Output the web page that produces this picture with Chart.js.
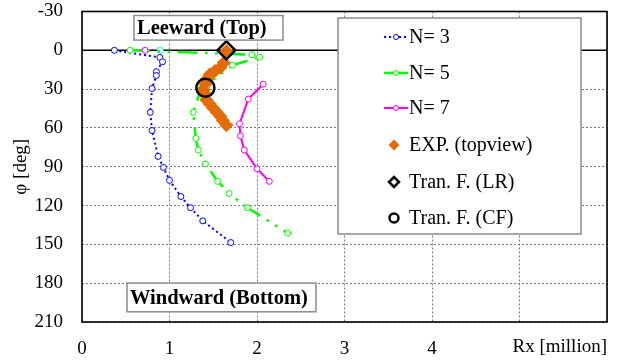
<!DOCTYPE html>
<html><head><meta charset="utf-8">
<script src="https://cdn.jsdelivr.net/npm/chart.js@4.4.1/dist/chart.umd.min.js"></script>
<style>html,body{margin:0;padding:0;background:#fff;}</style>
</head><body>
<canvas id="c" width="626" height="360"></canvas>
<script>
// ---- data ----
const xTickValues = [0, 1, 2, 3, 4, 5, 6];
const xTickLabels = ['0', '1', '2', '3', '4', '', ''];
const yTickValues = [-30, 0, 30, 60, 90, 120, 150, 180, 210];

const n3X = [0.37, 0.89, 0.92, 0.85, 0.85, 0.80, 0.78, 0.80, 0.87, 0.93, 1.00, 1.13, 1.24, 1.38, 1.70];
const n3Y = [0, 5.5, 8.9, 16.5, 19.5, 29.5, 48, 62, 82, 90.5, 100.5, 113, 121.7, 131.8, 148.6];

const n5X = [0.55, 1.94, 2.03, 1.72, 1.36, 1.27, 1.30, 1.33, 1.41, 1.55, 1.68, 1.89, 2.35];
const n5Y = [0, 3.4, 5.3, 11.5, 30, 47.9, 68.2, 77.1, 87.8, 101.3, 110.7, 121.7, 141.2];

const n7X = [0.72, null, 2.07, 1.90, 1.80, 1.81, 1.855, 2.00, 2.14];
const n7Y = [0, null, 26.2, 37.7, 56.8, 66.2, 77.1, 91.6, 101.3];

const extraX = [0.895];
const extraY = [0];

const expX = [1.65, 1.62, 1.58, 1.52, 1.46, 1.43, 1.41, 1.39, 1.41, 1.42, 1.46, 1.50, 1.54, 1.58, 1.61, 1.65];
const expY = [0.8, 9.7, 13.5, 16, 18.6, 21.9, 26.3, 30.5, 33.9, 38.2, 41.5, 44.8, 47.9, 50.9, 54.2, 58];

const lrX = [1.65];
const lrY = [0];
const cfX = [1.41];
const cfY = [29];

const seriesNames = ['N= 3', 'N= 5', 'N= 7', 'EXP. (topview)', 'Tran. F. (LR)', 'Tran. F. (CF)'];
const xTitle = 'Rx [million]';
const yTitle = 'φ [deg]';
const notes = [
  { text: 'Leeward (Top)', x0: 0.594, x1: 2.297, y0: -26.9, y1: -7.9 },
  { text: 'Windward (Bottom)', x0: 0.514, x1: 2.674, y0: 179.9, y1: 202.1 }
];

// ---- build ----
const pts = (xs, ys) => xs.map((x, i) => ({ x: x, y: ys[i] }));
const SERIF = '"Liberation Serif", "Times New Roman", serif';

const datasets = [
  { label: seriesNames[0], data: pts(n3X, n3Y), showLine: true, borderColor: '#0000ff', borderWidth: 2,
    borderDash: [2, 3], pointStyle: 'circle', pointRadius: 3, pointBorderWidth: 1,
    pointBorderColor: '#0000ff', pointBackgroundColor: '#ffffff', order: 6, legendDash: [2, 3] },
  { label: seriesNames[1], data: pts(n5X, n5Y), showLine: true, borderColor: '#00ff00', borderWidth: 2.5,
    borderDash: [20, 7.5, 2.5, 7.5, 2.5, 7.5], pointStyle: 'circle', pointRadius: 3, pointBorderWidth: 1,
    pointBorderColor: '#00ff00', pointBackgroundColor: '#ffffff', order: 5, legendDash: [] },
  { label: seriesNames[2], data: pts(n7X, n7Y), showLine: true, spanGaps: false, borderColor: '#ff00ff', borderWidth: 2,
    pointStyle: 'circle', pointRadius: 3, pointBorderWidth: 1,
    pointBorderColor: '#ff00ff', pointBackgroundColor: '#ffffff', order: 4, legendDash: [] },
  { label: seriesNames[3], data: pts(expX, expY), showLine: false, pointStyle: 'rectRot', pointRadius: 7,
    pointBorderWidth: 0, pointBorderColor: '#e36c09', pointBackgroundColor: '#e36c09', order: 3, legendRadius: 5.5 },
  { label: seriesNames[4], data: pts(lrX, lrY), showLine: false, pointStyle: 'rectRot', pointRadius: 9,
    pointBorderWidth: 2.5, pointBorderColor: '#000000', pointBackgroundColor: 'rgba(0,0,0,0)', order: 1, legendRadius: 5 },
  { label: seriesNames[5], data: pts(cfX, cfY), showLine: false, pointStyle: 'circle', pointRadius: 9,
    pointBorderWidth: 2.5, pointBorderColor: '#000000', pointBackgroundColor: 'rgba(0,0,0,0)', order: 2, legendRadius: 4.5 },
  { label: '', data: pts(extraX, extraY), showLine: false, pointStyle: 'circle', pointRadius: 3, pointBorderWidth: 1,
    pointBorderColor: '#00ffff', pointBackgroundColor: '#ffffff', order: 7, noLegend: true }
];

const decor = {
  id: 'decor',
  beforeDatasetsDraw(chart) {
    const { ctx, chartArea: a, scales: { y } } = chart;
    const y0 = y.getPixelForValue(0);
    ctx.save();
    ctx.strokeStyle = '#000';
    ctx.lineWidth = 1.5;
    ctx.beginPath(); ctx.moveTo(a.left, y0); ctx.lineTo(a.right, y0); ctx.stroke();
    ctx.restore();
  },
  afterDraw(chart) {
    const { ctx, chartArea: a, scales: { x, y } } = chart;
    ctx.save();
    // frame
    ctx.strokeStyle = '#000'; ctx.lineWidth = 1.6;
    ctx.strokeRect(a.left, a.top, a.right - a.left, a.bottom - a.top);
    // axis title x
    ctx.fillStyle = '#000';
    ctx.font = '19px ' + SERIF;
    ctx.textAlign = 'right'; ctx.textBaseline = 'middle';
    ctx.fillText(xTitle, a.right, 347);
    // notes
    ctx.font = 'bold 20.5px ' + SERIF;
    notes.forEach(n => {
      const l = x.getPixelForValue(n.x0), r = x.getPixelForValue(n.x1);
      const t = y.getPixelForValue(n.y0), b = y.getPixelForValue(n.y1);
      ctx.fillStyle = '#fff'; ctx.fillRect(l, t, r - l, b - t);
      ctx.strokeStyle = '#8c8c8c'; ctx.lineWidth = 1.5; ctx.strokeRect(l, t, r - l, b - t);
      ctx.fillStyle = '#000'; ctx.textAlign = 'left'; ctx.textBaseline = 'middle';
      ctx.fillText(n.text, l + 3, (t + b) / 2 + 1);
    });
    // legend
    const L = 338, T = 18, R = 581, B = 234;
    ctx.fillStyle = '#fff'; ctx.fillRect(L, T, R - L, B - T);
    ctx.strokeStyle = '#8c8c8c'; ctx.lineWidth = 1.5; ctx.strokeRect(L, T, R - L, B - T);
    const rows = [37, 73, 108, 145, 182, 218];
    const items = chart.data.datasets.filter(d => !d.noLegend);
    items.forEach((d, i) => {
      const cy = rows[i];
      const cx = 396;
      if (d.showLine) {
        ctx.save();
        ctx.strokeStyle = d.borderColor; ctx.lineWidth = d.borderWidth;
        ctx.setLineDash(d.legendDash || []);
        ctx.beginPath(); ctx.moveTo(384, cy); ctx.lineTo(408, cy); ctx.stroke();
        ctx.restore();
        ctx.save();
        ctx.fillStyle = '#fff'; ctx.strokeStyle = d.pointBorderColor; ctx.lineWidth = 1;
        ctx.beginPath(); ctx.arc(cx, cy, 2.5, 0, Math.PI * 2); ctx.fill(); ctx.stroke();
        ctx.restore();
      } else {
        ctx.save();
        ctx.fillStyle = d.pointBackgroundColor; ctx.strokeStyle = d.pointBorderColor;
        ctx.lineWidth = d.pointBorderWidth;
        Chart.helpers.drawPoint(ctx, { pointStyle: d.pointStyle, radius: d.legendRadius, borderWidth: d.pointBorderWidth }, cx - 2, cy);
        ctx.restore();
      }
      ctx.fillStyle = '#000'; ctx.font = '20px ' + SERIF;
      ctx.textAlign = 'left'; ctx.textBaseline = 'middle';
      ctx.fillText(d.label, 409, cy + 1);
    });
    ctx.restore();
  }
};

new Chart(document.getElementById('c'), {
  type: 'scatter',
  data: { datasets: datasets },
  options: {
    responsive: false,
    animation: false,
    events: [],
    layout: { padding: { left: 0, right: 19, top: 7.5, bottom: 0 } },
    plugins: { legend: { display: false }, tooltip: { enabled: false } },
    elements: { line: { tension: 0 } },
    scales: {
      x: {
        type: 'linear', min: 0, max: 6,
        afterBuildTicks: s => { s.ticks = xTickValues.map(v => ({ value: v })); },
        ticks: {
          color: '#000', font: { family: SERIF, size: 19 }, padding: 16, maxRotation: 0, autoSkip: false,
          callback: v => { const i = xTickValues.indexOf(v); return i >= 0 ? xTickLabels[i] : ''; }
        },
        grid: { color: '#7a7a7a', lineWidth: 1, drawTicks: false },
        border: { display: false, dash: [2, 2] },
        afterFit: s => { s.height = 38; s.paddingLeft = 0; s.paddingRight = 0; }
      },
      y: {
        type: 'linear', reverse: true, min: -30, max: 210,
        afterBuildTicks: s => { s.ticks = yTickValues.map(v => ({ value: v })); },
        ticks: { color: '#000', font: { family: SERIF, size: 19, lineHeight: 0.7 }, padding: 19, autoSkip: false },
        grid: { color: '#7a7a7a', lineWidth: 1, drawTicks: false },
        border: { display: false, dash: [2, 2] },
        title: { display: true, text: yTitle, color: '#000', font: { family: SERIF, size: 19 }, padding: { top: 10, bottom: 0 } },
        afterFit: s => { s.width = 82; s.paddingTop = 0; s.paddingBottom = 0; }
      }
    }
  },
  plugins: [decor]
});
</script>
</body></html>
